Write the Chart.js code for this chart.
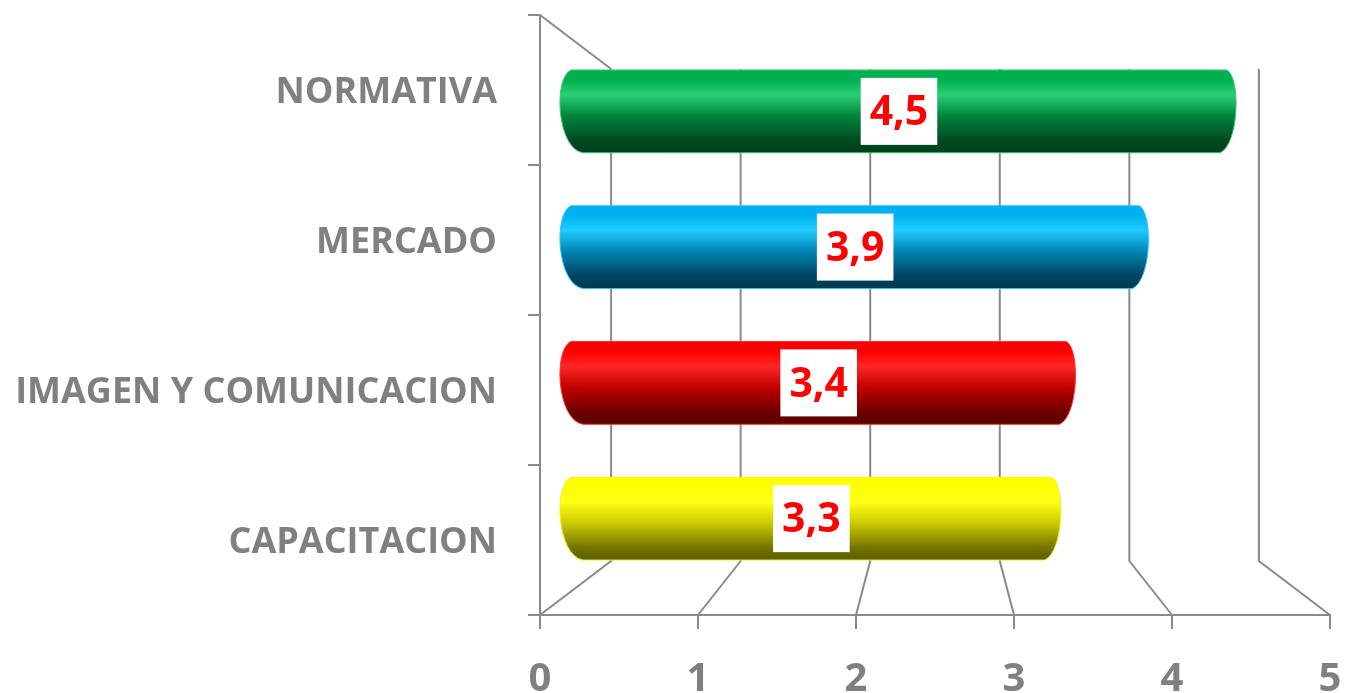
<!DOCTYPE html>
<html>
<head>
<meta charset="utf-8">
<script src="https://cdn.jsdelivr.net/npm/chart.js@4/dist/chart.umd.min.js"></script>
<style>
    html, body { margin: 0; padding: 0; background: #fff; }
    #wrap { width: 1345px; height: 693px; }
</style>
</head>
<body>
<div id="wrap"><canvas id="chart" width="1345" height="693"></canvas></div>
<script>
// --- Data ---
const categories = ['NORMATIVA', 'MERCADO', 'IMAGEN Y COMUNICACION', 'CAPACITACION'];
const values = [4.5, 3.9, 3.4, 3.3];
const xTicks = [0, 1, 2, 3, 4, 5];

// top colour, highlight, mid, dark, bottom, outline
const barShades = [
    ['#00b050', '#2bd074', '#00853d', '#004a22', '#003f1c', '#38c874'],
    ['#00b0f0', '#1fcbff', '#0086b6', '#00435f', '#003a52', '#30c4f6'],
    ['#ff0000', '#ff2626', '#c20000', '#6c0000', '#580000', '#ff3030'],
    ['#ffff00', '#ffff14', '#cccc00', '#747400', '#5c5c00', '#f0f020']
];

const GRID = '#8a8a8a';
const TEXT_GRAY = '#808080';
const BACK_DEPTH = 0.18;   // fraction towards the vanishing point for the back wall
const BAR_DEPTH_X = 0.076;
const BAR_DEPTH_Y = 0.095;

const fmt = v => v.toFixed(1).replace('.', ',');

// perspective: move a point towards the centre of the chart area
function toward(p, c, t) { return p + (c - p) * t; }

// no automatic padding for labels, the frame is fixed
function noPad(s) {
    s.paddingTop = 0; s.paddingBottom = 0; s.paddingLeft = 0; s.paddingRight = 0;
}

const frame3d = {
    id: 'frame3d',
    beforeDatasetsDraw(chart) {
        const { ctx, chartArea: a, scales: { x } } = chart;
        const cx = (a.left + a.right) / 2, cy = (a.top + a.bottom) / 2;
        const backTop = toward(a.top, cy, BACK_DEPTH);
        const backBottom = toward(a.bottom, cy, BACK_DEPTH);
        ctx.save();
        ctx.strokeStyle = GRID;
        ctx.lineWidth = 2;
        ctx.beginPath();
        // side wall top edge
        ctx.moveTo(a.left, a.top);
        ctx.lineTo(toward(a.left, cx, BACK_DEPTH), backTop);
        xTicks.forEach(v => {
            const fx = x.getPixelForValue(v);
            const bx = toward(fx, cx, BACK_DEPTH);
            ctx.moveTo(bx, backTop);
            ctx.lineTo(bx, backBottom);
            ctx.lineTo(fx, a.bottom);
        });
        ctx.stroke();
        ctx.restore();
    },
    afterDatasetsDraw(chart) {
        const { ctx, chartArea: a } = chart;
        const cx = (a.left + a.right) / 2, cy = (a.top + a.bottom) / 2;
        const meta = chart.getDatasetMeta(0);
        const bars = [];
        meta.data.forEach((el, i) => {
            const xs = toward(el.base, cx, BAR_DEPTH_X);
            const xe = toward(el.x, cx, BAR_DEPTH_X);
            const yc = toward(el.y, cy, BAR_DEPTH_Y);
            const h = el.height * (1 - BAR_DEPTH_Y);
            const top = yc - h / 2, bottom = yc + h / 2;
            const s = barShades[i];
            const g = ctx.createLinearGradient(0, top, 0, bottom);
            g.addColorStop(0, s[0]);
            g.addColorStop(0.12, s[0]);
            g.addColorStop(0.3, s[1]);
            g.addColorStop(0.55, s[2]);
            g.addColorStop(0.85, s[3]);
            g.addColorStop(1, s[4]);
            const k = h / 83;
            ctx.save();
            ctx.beginPath();
            ctx.moveTo(xs, top);
            ctx.lineTo(xe, top);
            ctx.bezierCurveTo(xe + 14 * k, top + 0.1 * h, xe + 12 * k, bottom - 0.1 * h, xe - 7 * k, bottom);
            ctx.lineTo(xs + 12 * k, bottom);
            ctx.bezierCurveTo(xs - 14 * k, bottom - 0.05 * h, xs - 18 * k, top + 0.1 * h, xs, top);
            ctx.closePath();
            ctx.fillStyle = g;
            ctx.fill();
            ctx.strokeStyle = s[5];
            ctx.lineWidth = 1;
            ctx.stroke();
            ctx.restore();
            bars.push({ x: (xs + xe) / 2, y: yc, v: values[i] });
        });
        // value labels in white boxes
        ctx.save();
        ctx.font = 'bold 41px "Open Sans"';
        ctx.textAlign = 'center';
        ctx.textBaseline = 'middle';
        bars.forEach(b => {
            const txt = fmt(b.v);
            const w = ctx.measureText(txt).width + 18;
            const bh = 67;
            ctx.fillStyle = '#ffffff';
            ctx.fillRect(b.x - w / 2, b.y - bh / 2, w, bh);
            ctx.fillStyle = '#ff0000';
            ctx.fillText(txt, b.x, b.y + 2);
        });
        ctx.restore();
    }
};

new Chart(document.getElementById('chart'), {
    type: 'bar',
    data: {
        labels: categories,
        datasets: [{
            data: values,
            backgroundColor: 'rgba(0,0,0,0)',
            borderWidth: 0,
            categoryPercentage: 1,
            barPercentage: 0.61
        }]
    },
    options: {
        indexAxis: 'y',
        responsive: false,
        animation: false,
        layout: { padding: { top: 15, right: 15, left: 0, bottom: 0 } },
        plugins: { legend: { display: false }, tooltip: { enabled: false } },
        scales: {
            x: {
                min: 0,
                max: 5,
                afterFit: s => { s.height = 78; noPad(s); },
                afterBuildTicks: s => { s.ticks = xTicks.map(v => ({ value: v })); },
                grid: { drawOnChartArea: false, tickLength: 14, color: GRID, lineWidth: 2 },
                border: { color: GRID, width: 2 },
                ticks: {
                    color: TEXT_GRAY,
                    padding: 27,
                    font: { family: 'Open Sans', weight: 'bold', size: 40 }
                }
            },
            y: {
                afterFit: s => { s.width = 540; noPad(s); },
                grid: { offset: true, drawOnChartArea: false, tickLength: 12, color: GRID, lineWidth: 2 },
                border: { color: GRID, width: 2 },
                ticks: {
                    color: TEXT_GRAY,
                    padding: 31,
                    labelOffset: 3,
                    font: { family: 'Open Sans', weight: 'bold', size: 36 }
                }
            }
        }
    },
    plugins: [frame3d]
});
</script>
</body>
</html>
